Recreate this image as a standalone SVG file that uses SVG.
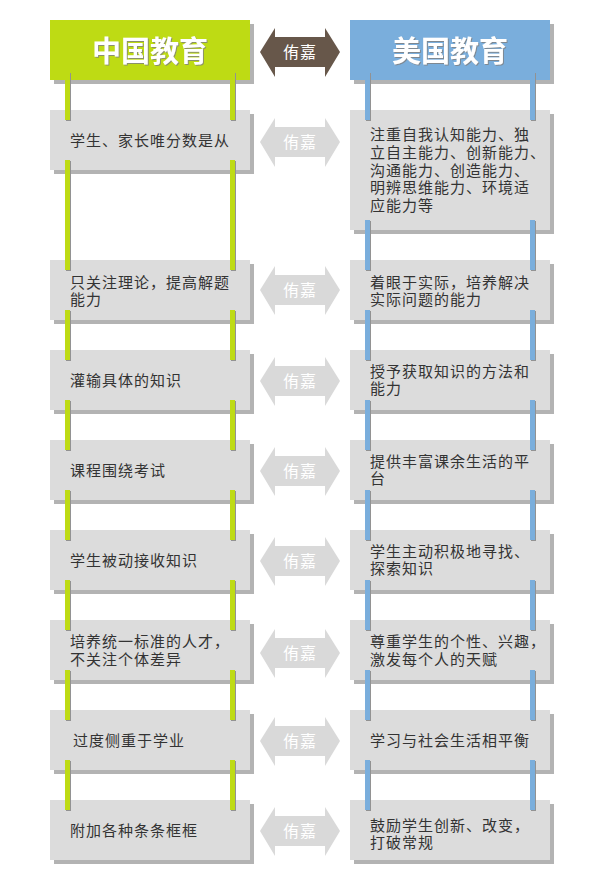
<svg xmlns="http://www.w3.org/2000/svg" width="600" height="870" viewBox="0 0 600 870">
<defs>
<style>
.sh{fill:#b3b3b3}
.box{fill:#dcdcdc}
.g{fill:#bedb14}
.b{fill:#7aaedc}
.bs{fill:#929292}
.t{font-family:"Liberation Sans","Noto Sans CJK SC",sans-serif;font-size:15px;letter-spacing:1px;fill:#333333}
.h{font-family:"Noto Sans CJK SC","Liberation Sans",sans-serif;font-size:29px;font-weight:bold;fill:#ffffff;text-anchor:middle;filter:url(#ds)}
.at{font-family:"Noto Sans CJK SC","Liberation Sans",sans-serif;font-size:16px;letter-spacing:1px;fill:#ffffff;text-anchor:middle}
.ga{fill:#d9d9d9}
</style>
<filter id="ds" x="-10%" y="-20%" width="120%" height="140%">
<feDropShadow dx="1" dy="1" stdDeviation="0.4" flood-color="#7f7f7f" flood-opacity="0.8"/>
</filter>
<polygon id="arr" points="-40,0 -25,-24 -25,-15 25,-15 25,-24 40,0 25,25 25,15 -25,15 -25,25"/>
</defs>
<rect width="600" height="870" fill="#ffffff"/>

<g id="head-cn">
<rect class="sh" x="54" y="24" width="200" height="60"/>
<rect class="g" x="50" y="20" width="200" height="60"/>
<text class="h" x="150" y="62">中国教育</text>
</g>
<g id="head-us">
<rect class="sh" x="354" y="24" width="200" height="60"/>
<rect class="b" x="350" y="20" width="200" height="60"/>
<text class="h" x="450" y="62">美国教育</text>
</g>
<g id="head-vs">
<use href="#arr" x="300" y="52" fill="#67574a"/>
<text class="at" x="300" y="58">侑嘉</text>
</g>

<g id="boxes-shadow">
<rect class="sh" x="54" y="114" width="200" height="60"/>
<rect class="sh" x="354" y="114" width="200" height="120"/>
<rect class="sh" x="54" y="264" width="200" height="60"/><rect class="sh" x="354" y="264" width="200" height="60"/>
<rect class="sh" x="54" y="354" width="200" height="60"/><rect class="sh" x="354" y="354" width="200" height="60"/>
<rect class="sh" x="54" y="444" width="200" height="60"/><rect class="sh" x="354" y="444" width="200" height="60"/>
<rect class="sh" x="54" y="534" width="200" height="60"/><rect class="sh" x="354" y="534" width="200" height="60"/>
<rect class="sh" x="54" y="624" width="200" height="60"/><rect class="sh" x="354" y="624" width="200" height="60"/>
<rect class="sh" x="54" y="714" width="200" height="60"/><rect class="sh" x="354" y="714" width="200" height="60"/>
<rect class="sh" x="54" y="804" width="200" height="60"/><rect class="sh" x="354" y="804" width="200" height="60"/>
</g>

<g id="cn1"><rect class="box" x="50" y="110" width="200" height="60"/></g>
<g id="us1"><rect class="box" x="350" y="110" width="200" height="120"/></g>
<g id="cn2"><rect class="box" x="50" y="260" width="200" height="60"/></g>
<g id="us2"><rect class="box" x="350" y="260" width="200" height="60"/></g>
<g id="cn3"><rect class="box" x="50" y="350" width="200" height="60"/></g>
<g id="us3"><rect class="box" x="350" y="350" width="200" height="60"/></g>
<g id="cn4"><rect class="box" x="50" y="440" width="200" height="60"/></g>
<g id="us4"><rect class="box" x="350" y="440" width="200" height="60"/></g>
<g id="cn5"><rect class="box" x="50" y="530" width="200" height="60"/></g>
<g id="us5"><rect class="box" x="350" y="530" width="200" height="60"/></g>
<g id="cn6"><rect class="box" x="50" y="620" width="200" height="60"/></g>
<g id="us6"><rect class="box" x="350" y="620" width="200" height="60"/></g>
<g id="cn7"><rect class="box" x="50" y="710" width="200" height="60"/></g>
<g id="us7"><rect class="box" x="350" y="710" width="200" height="60"/></g>
<g id="cn8"><rect class="box" x="50" y="800" width="200" height="60"/></g>
<g id="us8"><rect class="box" x="350" y="800" width="200" height="60"/></g>

<g id="vs-arrows">
<use href="#arr" x="300" y="142" class="ga"/><text class="at" x="300" y="148">侑嘉</text>
<use href="#arr" x="300" y="290" class="ga"/><text class="at" x="300" y="296">侑嘉</text>
<use href="#arr" x="300" y="381" class="ga"/><text class="at" x="300" y="387">侑嘉</text>
<use href="#arr" x="300" y="471" class="ga"/><text class="at" x="300" y="477">侑嘉</text>
<use href="#arr" x="300" y="561" class="ga"/><text class="at" x="300" y="567">侑嘉</text>
<use href="#arr" x="300" y="653" class="ga"/><text class="at" x="300" y="659">侑嘉</text>
<use href="#arr" x="300" y="741" class="ga"/><text class="at" x="300" y="747">侑嘉</text>
<use href="#arr" x="300" y="831" class="ga"/><text class="at" x="300" y="837">侑嘉</text>
</g>

<g id="connectors">
<rect class="bs" x="66" y="73" width="5" height="48"/><rect class="g" x="65" y="72" width="5" height="48"/>
<rect class="bs" x="231" y="73" width="5" height="48"/><rect class="g" x="230" y="72" width="5" height="48"/>
<rect class="bs" x="66" y="161" width="5" height="110"/><rect class="g" x="65" y="160" width="5" height="110"/>
<rect class="bs" x="231" y="161" width="5" height="110"/><rect class="g" x="230" y="160" width="5" height="110"/>
<rect class="bs" x="66" y="311" width="5" height="50"/><rect class="g" x="65" y="310" width="5" height="50"/>
<rect class="bs" x="231" y="311" width="5" height="50"/><rect class="g" x="230" y="310" width="5" height="50"/>
<rect class="bs" x="66" y="401" width="5" height="50"/><rect class="g" x="65" y="400" width="5" height="50"/>
<rect class="bs" x="231" y="401" width="5" height="50"/><rect class="g" x="230" y="400" width="5" height="50"/>
<rect class="bs" x="66" y="491" width="5" height="50"/><rect class="g" x="65" y="490" width="5" height="50"/>
<rect class="bs" x="231" y="491" width="5" height="50"/><rect class="g" x="230" y="490" width="5" height="50"/>
<rect class="bs" x="66" y="581" width="5" height="50"/><rect class="g" x="65" y="580" width="5" height="50"/>
<rect class="bs" x="231" y="581" width="5" height="50"/><rect class="g" x="230" y="580" width="5" height="50"/>
<rect class="bs" x="66" y="671" width="5" height="50"/><rect class="g" x="65" y="670" width="5" height="50"/>
<rect class="bs" x="231" y="671" width="5" height="50"/><rect class="g" x="230" y="670" width="5" height="50"/>
<rect class="bs" x="66" y="761" width="5" height="50"/><rect class="g" x="65" y="760" width="5" height="50"/>
<rect class="bs" x="231" y="761" width="5" height="50"/><rect class="g" x="230" y="760" width="5" height="50"/>
<rect class="bs" x="366" y="73" width="5" height="48"/><rect class="b" x="365" y="72" width="5" height="48"/>
<rect class="bs" x="531" y="73" width="5" height="48"/><rect class="b" x="530" y="72" width="5" height="48"/>
<rect class="bs" x="366" y="221" width="5" height="50"/><rect class="b" x="365" y="220" width="5" height="50"/>
<rect class="bs" x="531" y="221" width="5" height="50"/><rect class="b" x="530" y="220" width="5" height="50"/>
<rect class="bs" x="366" y="311" width="5" height="50"/><rect class="b" x="365" y="310" width="5" height="50"/>
<rect class="bs" x="531" y="311" width="5" height="50"/><rect class="b" x="530" y="310" width="5" height="50"/>
<rect class="bs" x="366" y="401" width="5" height="50"/><rect class="b" x="365" y="400" width="5" height="50"/>
<rect class="bs" x="531" y="401" width="5" height="50"/><rect class="b" x="530" y="400" width="5" height="50"/>
<rect class="bs" x="366" y="491" width="5" height="50"/><rect class="b" x="365" y="490" width="5" height="50"/>
<rect class="bs" x="531" y="491" width="5" height="50"/><rect class="b" x="530" y="490" width="5" height="50"/>
<rect class="bs" x="366" y="581" width="5" height="50"/><rect class="b" x="365" y="580" width="5" height="50"/>
<rect class="bs" x="531" y="581" width="5" height="50"/><rect class="b" x="530" y="580" width="5" height="50"/>
<rect class="bs" x="366" y="671" width="5" height="50"/><rect class="b" x="365" y="670" width="5" height="50"/>
<rect class="bs" x="531" y="671" width="5" height="50"/><rect class="b" x="530" y="670" width="5" height="50"/>
<rect class="bs" x="366" y="761" width="5" height="50"/><rect class="b" x="365" y="760" width="5" height="50"/>
<rect class="bs" x="531" y="761" width="5" height="50"/><rect class="b" x="530" y="760" width="5" height="50"/>
</g>

<g id="texts">
<text class="t" x="70" y="146">学生、家长唯分数是从</text>
<text class="t"><tspan x="370" y="140">注重自我认知能力、独</tspan><tspan x="370" y="158">立自主能力、创新能力、</tspan><tspan x="370" y="175.5">沟通能力、创造能力、</tspan><tspan x="370" y="193">明辨思维能力、环境适</tspan><tspan x="370" y="210.5">应能力等</tspan></text>

<text class="t"><tspan x="70" y="288">只关注理论，提高解题</tspan><tspan x="70" y="305">能力</tspan></text>
<text class="t"><tspan x="370" y="288">着眼于实际，培养解决</tspan><tspan x="370" y="305">实际问题的能力</tspan></text>

<text class="t" x="70" y="386">灌输具体的知识</text>
<text class="t"><tspan x="370" y="377">授予获取知识的方法和</tspan><tspan x="370" y="394">能力</tspan></text>

<text class="t" x="70" y="476">课程围绕考试</text>
<text class="t"><tspan x="370" y="467">提供丰富课余生活的平</tspan><tspan x="370" y="484">台</tspan></text>

<text class="t" x="70" y="566">学生被动接收知识</text>
<text class="t"><tspan x="370" y="557">学生主动积极地寻找、</tspan><tspan x="370" y="574">探索知识</tspan></text>

<text class="t"><tspan x="70" y="647">培养统一标准的人才，</tspan><tspan x="70" y="665">不关注个体差异</tspan></text>
<text class="t"><tspan x="370" y="647">尊重学生的个性、兴趣，</tspan><tspan x="370" y="665">激发每个人的天赋</tspan></text>

<text class="t" x="73" y="746">过度侧重于学业</text>
<text class="t" x="370" y="746">学习与社会生活相平衡</text>

<text class="t" x="70" y="836">附加各种条条框框</text>
<text class="t"><tspan x="370" y="831">鼓励学生创新、改变，</tspan><tspan x="370" y="848">打破常规</tspan></text>
</g>
</svg>
